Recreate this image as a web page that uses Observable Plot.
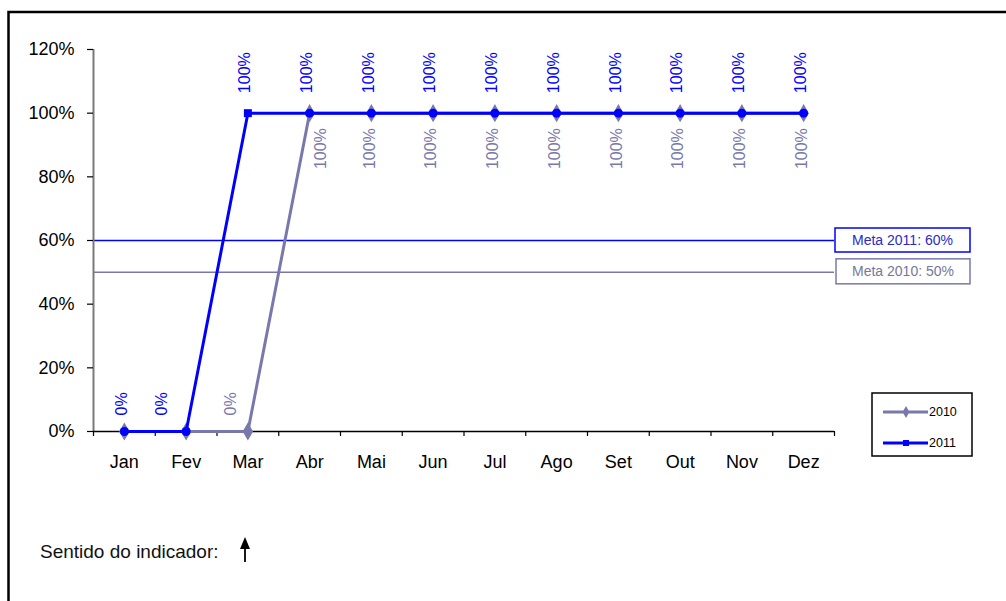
<!DOCTYPE html>
<html><head><meta charset="utf-8">
<script src="https://cdn.jsdelivr.net/npm/d3@7"></script>
<script src="https://cdn.jsdelivr.net/npm/@observablehq/plot@0.6"></script>
<style>
body{margin:0;background:#fff;font-family:"Liberation Sans",Arial,sans-serif}
svg{display:block}
</style>
</head><body><div id="chart"></div>
<script>
// ---- data ----
const months = ["Jan","Fev","Mar","Abr","Mai","Jun","Jul","Ago","Set","Out","Nov","Dez"];
const values2010 = [0,0,0,1,1,1,1,1,1,1,1,1];
const values2011 = [0,0,1,1,1,1,1,1,1,1,1,1];
const meta2010 = 0.5;
const meta2011 = 0.6;
const yTicks = [0,0.2,0.4,0.6,0.8,1.0,1.2];
const seriesNames = ["2010","2011"];
const footnote = "Sentido do indicador:";

// ---- build ----
const C2010 = "#7878ad", C2011 = "#0000ff";
const pct = d3.format(".0%");
const d2010 = months.map((m,i)=>({m, i, v: values2010[i]}));
const d2011 = months.map((m,i)=>({m, i, v: values2011[i]}));
const font = "'Liberation Sans', Arial, sans-serif";

const lab = (data, o) => Plot.text(data, {x:"i", y:"v", text: d=>pct(d.v), rotate:-90, fill:o.fill, fontSize:16, textAnchor:o.anchor, dx:o.dx, dy:o.dy});

const plot = Plot.plot({
  width: 1006, height: 601,
  marginLeft: 93, marginRight: 172, marginTop: 49, marginBottom: 170,
  style: {fontFamily: font, background: "white", overflow: "visible"},
  x: {type: "linear", domain: [-0.5, 11.5], axis: null, label: null},
  y: {domain: [0, 1.2], axis: null, label: null},
  marks: [
    Plot.ruleY([meta2011], {stroke: C2011, strokeWidth: 1.5}),
    Plot.ruleY([meta2010], {stroke: C2010, strokeWidth: 1.5}),
    Plot.ruleX([-0.5], {y1: 0, y2: 1.2, stroke: "#7a7a7a", strokeWidth: 2}),
    Plot.axisY(yTicks, {anchor:"left", label: null, tickFormat: pct, tickSize: 6, tickPadding: 13, fontSize: 18, color: "#000", strokeWidth: 1.2}),
    Plot.ruleY([0], {stroke: "#000", strokeWidth: 1.5}),
    Plot.axisX(d3.range(-0.5, 12, 1), {anchor:"bottom", label: null, tickFormat: () => "", tickSize: 5, color: "#000", strokeWidth: 1.2}),
    Plot.axisX(d3.range(months.length), {anchor:"bottom", label: null, tickFormat: i => months[i], tickSize: 0, tickPadding: 24, fontSize: 18, color: "#000"}),
    Plot.line(d2010, {x:"i", y:"v", stroke: C2010, strokeWidth: 3}),
    Plot.dot(d2010, {x:"i", y:"v", symbol:"diamond", r:5.5, fill: C2010}),
    Plot.line(d2011, {x:"i", y:"v", stroke: C2011, strokeWidth: 3}),
    Plot.dot(d2011.filter(d=>d.m!=="Mar"), {x:"i", y:"v", r:4.5, fill: C2011}),
    Plot.dot(d2011.filter(d=>d.m==="Mar"), {x:"i", y:"v", symbol:"square", r:4.5, fill: C2011}),
    // 2011 labels (above)
    lab(d2011.filter(d=>d.v>0), {fill:C2011, anchor:"start", dx:-3, dy:-20}),
    lab(d2011.filter(d=>d.v===0 && d.m!=="Fev"), {fill:C2011, anchor:"start", dx:-3, dy:-16}),
    lab(d2011.filter(d=>d.m==="Fev"), {fill:C2011, anchor:"start", dx:-24, dy:-16}),
    // 2010 labels
    lab(d2010.filter(d=>d.v>0 && d.m!=="Abr"), {fill:C2010, anchor:"end", dx:-2, dy:15}),
    lab(d2010.filter(d=>d.m==="Abr"), {fill:C2010, anchor:"end", dx:11, dy:15}),
    lab(d2010.filter(d=>d.m==="Mar"), {fill:C2010, anchor:"start", dx:-17, dy:-16})
  ]
});

document.getElementById("chart").appendChild(plot);

// ---- annotations ----
const svg = d3.select(plot);
const ys = plot.scale("y");
function box(x, yc, w, h, stroke, label, color) {
  svg.append("rect").attr("x", x).attr("y", yc - h/2).attr("width", w).attr("height", h)
    .attr("fill", "white").attr("stroke", stroke).attr("stroke-width", 1.5);
  svg.append("text").attr("x", x + w/2).attr("y", yc).attr("dy", "0.35em")
    .attr("text-anchor", "middle").attr("font-size", 14).attr("fill", color).text(label);
}
box(835, ys.apply(meta2011), 135, 24, C2011, `Meta 2011: ${pct(meta2011)}`, "#2a2acc");
box(836, ys.apply(meta2010) - 0.5, 134, 25, C2010, `Meta 2010: ${pct(meta2010)}`, "#77779a");

// legend
svg.append("rect").attr("x", 872).attr("y", 393).attr("width", 100).attr("height", 63)
  .attr("fill", "white").attr("stroke", "#000").attr("stroke-width", 1.5);
const leg = [{name: seriesNames[0], c: C2010, sym: "diamond", y: 412}, {name: seriesNames[1], c: C2011, sym: "square", y: 443}];
leg.forEach(l => {
  svg.append("line").attr("x1", 883).attr("x2", 928).attr("y1", l.y).attr("y2", l.y)
    .attr("stroke", l.c).attr("stroke-width", 3);
  const s = l.sym === "diamond" ? d3.symbol(d3.symbolDiamond, 40) : d3.symbol(d3.symbolSquare, 36);
  svg.append("path").attr("d", s()).attr("transform", `translate(906,${l.y})`).attr("fill", l.c);
  svg.append("text").attr("x", 929).attr("y", l.y).attr("dy", "0.35em").attr("text-anchor", "start")
    .attr("font-size", 12.5).attr("fill", "#000").text(l.name);
});

// footnote + arrow
svg.append("text").attr("x", 40).attr("y", 558).attr("text-anchor", "start").attr("font-size", 19).attr("fill", "#111").text(footnote);
svg.append("line").attr("x1", 245).attr("x2", 245).attr("y1", 546).attr("y2", 562).attr("stroke", "#000").attr("stroke-width", 1.8);
svg.append("path").attr("d", "M245,537 L250,549 L240,549 Z").attr("fill", "#000");

// outer border (top & left)
svg.append("path").attr("d", "M8.5,601 V12 H1006").attr("fill", "none").attr("stroke", "#000").attr("stroke-width", 2.5);
</script>
</body></html>
